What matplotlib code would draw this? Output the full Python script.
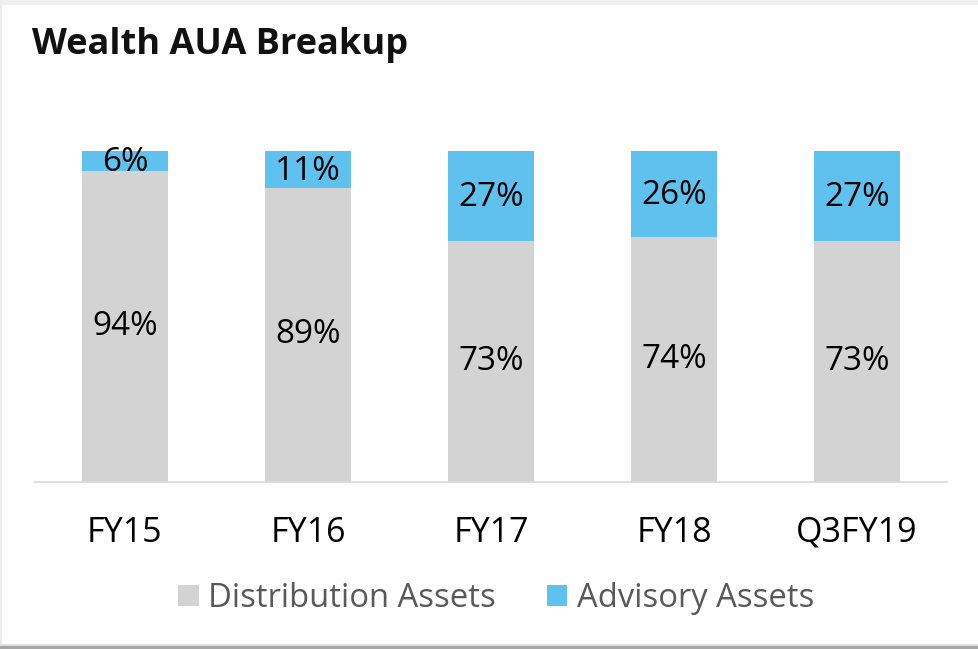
import matplotlib.pyplot as plt
from matplotlib.patches import Rectangle, Patch

# data
periods = ['FY15', 'FY16', 'FY17', 'FY18', 'Q3FY19']
distribution = [94, 89, 73, 74, 73]
advisory = [6, 11, 27, 26, 27]

c_dist = '#d3d3d3'
c_adv = '#5fc1ed'

plt.rcParams['font.family'] = ['Open Sans', 'DejaVu Sans']

fig = plt.figure(figsize=(9.79, 6.49), dpi=100)
fig.patch.set_facecolor('white')

# frame / shadow of the slide box
fig.add_artist(Rectangle((0, 1 - 5 / 649), 1, 5 / 649, transform=fig.transFigure,
                         facecolor='#f0f0f0', edgecolor='none'))
fig.add_artist(Rectangle((0, 0), 2 / 979, 1, transform=fig.transFigure,
                         facecolor='#ececec', edgecolor='none'))
fig.add_artist(Rectangle((0, 3 / 649), 1, 2 / 649, transform=fig.transFigure,
                         facecolor='#e0e0e0', edgecolor='none'))
fig.add_artist(Rectangle((0, 0), 1, 3 / 649, transform=fig.transFigure,
                         facecolor='#a6a6a6', edgecolor='none'))

ax = fig.add_axes([0.036, 0.257, 0.931, 0.510])
x = range(len(periods))
w = 0.466
ax.bar(x, distribution, width=w, color=c_dist, label='Distribution Assets')
ax.bar(x, advisory, width=w, bottom=distribution, color=c_adv, label='Advisory Assets')

for i in x:
    ax.text(i, distribution[i] / 2, f'{distribution[i]}%', ha='center', va='center',
            fontsize=24, color='black')
    ax.text(i, distribution[i] + advisory[i] / 2 - 0.5, f'{advisory[i]}%', ha='center',
            va='center', fontsize=24, color='black')

ax.set_xlim(-0.49, 4.49)
ax.set_ylim(0, 100)
ax.set_yticks([])
ax.set_xticks(list(x))
ax.set_xticklabels(periods, fontsize=24.5, color='black')
ax.tick_params(axis='x', length=0, pad=24)
for s in ['top', 'right', 'left']:
    ax.spines[s].set_visible(False)
ax.spines['bottom'].set_color('#d9d9d9')
ax.spines['bottom'].set_linewidth(1.2)

fig.text(0.033, 0.93, 'Wealth AUA Breakup', fontsize=26, fontweight='bold',
         ha='left', va='center', color='#111111')

handles = [Patch(facecolor=c_dist), Patch(facecolor=c_adv)]
fig.legend(handles, ['Distribution Assets', 'Advisory Assets'], loc='center',
           bbox_to_anchor=(0.507, 0.078), ncol=2, frameon=False, fontsize=23.6,
           labelcolor='#595959', handlelength=0.62, handleheight=0.62,
           handletextpad=0.3, columnspacing=1.55)

fig.savefig('out.png', dpi=100)
